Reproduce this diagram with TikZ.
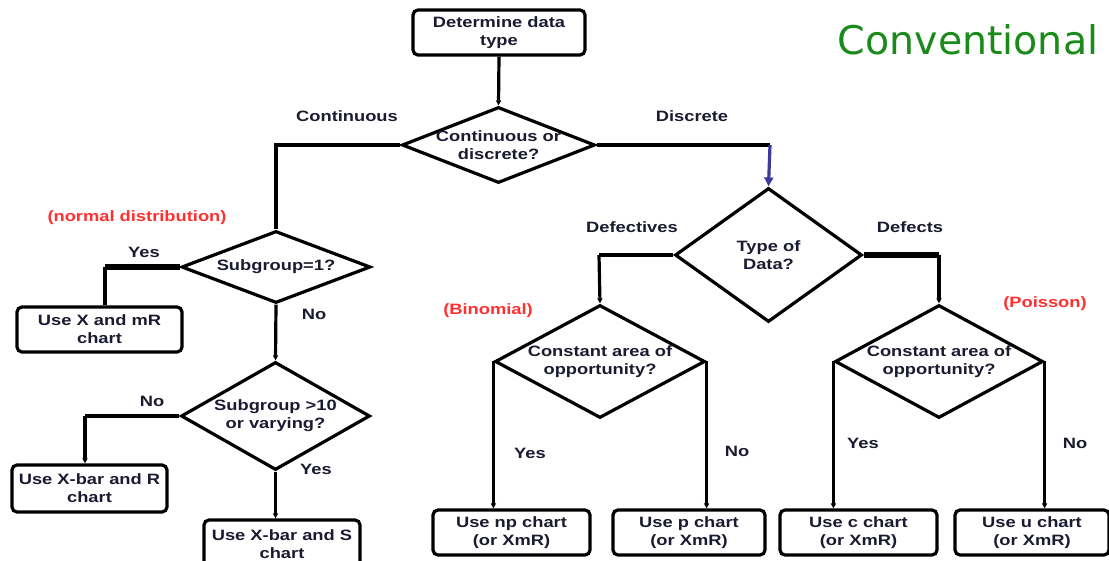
\documentclass[tikz,border=0pt]{standalone}
\usepackage{fontspec}
\setmainfont{Liberation Sans}
\newfontfamily\af[FakeStretch=1.22]{Liberation Sans}
\newfontfamily\cf{DejaVu Sans}
\usetikzlibrary{shapes.geometric,arrows.meta}
\definecolor{ink}{HTML}{1A1A30}
\definecolor{redlbl}{HTML}{FF3030}
\definecolor{greenlbl}{HTML}{1A8A1A}
\definecolor{bluearr}{HTML}{3A3A9A}
\tikzset{
  txt/.style={font=\af\bfseries\fontsize{15}{18}\selectfont, text=ink, align=center, inner sep=0pt},
  redtxt/.style={font=\af\bfseries\fontsize{15}{18}\selectfont, text=redlbl, align=center, inner sep=0pt},
  stepbox/.style={draw, line width=3.2pt, rounded corners=5pt, inner sep=0pt, txt},
  dia/.style={draw, diamond, line width=3.2pt, inner sep=0pt, line join=miter},
  ln/.style={draw, line width=3.2pt},
  thickln/.style={draw, line width=5.2pt},
  arr/.style={-{Triangle[length=5pt,width=5pt]}},
}
\begin{document}
\begin{tikzpicture}[x=1pt,y=-1pt]
\useasboundingbox (0,0) rectangle (1109,561);

% boxes
\node[stepbox, minimum width=172pt, minimum height=45pt] (start) at (499,32.5) {Determine data\\type};
\node[stepbox, minimum width=165pt, minimum height=45pt] (b1) at (99.5,329.5) {Use X and mR\\chart};
\node[stepbox, minimum width=155pt, minimum height=47pt] (b2) at (89.5,488.5) {Use X-bar and R\\chart};
\node[stepbox, minimum width=156pt, minimum height=48pt] (b3) at (282,544) {Use X-bar and S\\chart};
\node[stepbox, minimum width=157pt, minimum height=45pt] (b4) at (511.5,532.5) {Use np chart\\(or XmR)};
\node[stepbox, minimum width=152pt, minimum height=45pt] (b5) at (689,532.5) {Use p chart\\(or XmR)};
\node[stepbox, minimum width=157pt, minimum height=45pt] (b6) at (858.5,532.5) {Use c chart\\(or XmR)};
\node[stepbox, minimum width=154pt, minimum height=45pt] (b7) at (1032,532.5) {Use u chart\\(or XmR)};

% diamonds
\node[dia, minimum width=193pt, minimum height=76pt] (d1) at (498.5,145) {};
\node[txt] at (d1.center) {Continuous or\\discrete?};
\node[dia, minimum width=189pt, minimum height=72pt] (sub1) at (276,267) {};
\node[txt] at (sub1.center) {Subgroup=1?};
\node[dia, minimum width=189pt, minimum height=108pt] (sub10) at (275.5,416) {};
\node[txt] at (sub10.center) {Subgroup >10\\or varying?};
\node[dia, minimum width=187pt, minimum height=134pt] (d4) at (768.5,255) {};
\node[txt] at (d4.center) {Type of\\Data?};
\node[dia, minimum width=210pt, minimum height=113pt] (d5) at (600,361.5) {};
\node[txt] at (d5.center) {Constant area of\\opportunity?};
\node[dia, minimum width=208pt, minimum height=113pt] (d6) at (939,361.5) {};
\node[txt] at (d6.center) {Constant area of\\opportunity?};

% connectors
\draw[ln, arr] (start.south) -- (d1.north);
\draw[ln] (d1.west) -| (sub1.north);
\coordinate (cd) at (770,145);
\draw[ln] (d1.east) -- (cd);
\draw[line width=3.2pt, draw=bluearr, -{Triangle[length=9pt,width=9pt]}] (cd) -- (d4.north);

\coordinate (cy) at (105,267);
\draw[thickln] (sub1.west) -- (cy);
\draw[ln] (cy) -- (cy |- b1.north);
\draw[ln, arr] (sub1.south) -- (sub10.north);
\coordinate (cn) at (85,416);
\draw[ln] (sub10.west) -- (cn);
\draw[ln, arr] (cn) -- (cn |- b2.north);
\draw[ln, arr] (sub10.south) -- (b3.north -| sub10.south);

\coordinate (cdv) at (599,255);
\draw[ln] (d4.west) -- (cdv);
\draw[ln, arr] (cdv) -- (d5.north);
\coordinate (cdf) at (939,255);
\draw[thickln] (d4.east) -- (cdf);
\draw[ln, arr] (cdf) -- (d6.north);

\draw[ln, arr] (d5.west) -- (d5.west |- b4.north);
\draw[ln, arr] (d5.east) -- (d5.east |- b5.north);
\draw[ln, arr] (d6.west) -- (d6.west |- b6.north);
\draw[ln, arr] (d6.east) -- (d6.east |- b7.north);

% labels
\node[txt] (lcont) at (347,116) {Continuous};
\node[txt] (ldisc) at (692,116) {Discrete};
\node[redtxt] (lnorm) at (137,218) {(normal distribution)};
\node[txt] (ly1) at (144,252) {Yes};
\node[txt] (ln1) at (314,314) {No};
\node[txt] (ln2) at (152,401) {No};
\node[txt] (ly2) at (316,469) {Yes};
\node[txt] (ldef) at (632,227) {Defectives};
\node[txt] (ldfs) at (910,227) {Defects};
\node[redtxt] (lbin) at (488,311) {(Binomial)};
\node[redtxt] (lpoi) at (1045,304) {(Poisson)};
\node[txt] (ly3) at (530,453) {Yes};
\node[txt] (ln3) at (737,451) {No};
\node[txt] (ly4) at (863,443) {Yes};
\node[txt] (ln4) at (1075,443) {No};
\node[font=\cf\fontsize{39.5}{45}\selectfont, text=greenlbl, inner sep=0pt] (title) at (968,40) {Conventional};
\end{tikzpicture}
\end{document}
